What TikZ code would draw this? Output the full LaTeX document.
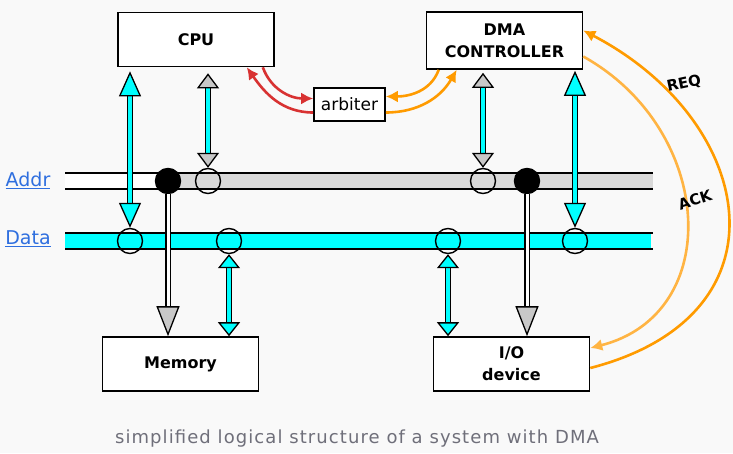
\documentclass[tikz,border=0pt]{standalone}
\usepackage{fontspec}
\setmainfont{DejaVu Sans}
\usetikzlibrary{arrows.meta}

\definecolor{bgcol}{HTML}{F9F9F9}
\definecolor{buscyan}{HTML}{00FFFF}
\definecolor{busgray}{HTML}{D9D9D9}
\definecolor{headgray}{HTML}{C8C8C8}
\definecolor{linkblue}{HTML}{2F6FDF}
\definecolor{arbred}{HTML}{D83232}
\definecolor{reqorange}{HTML}{FF9B00}
\definecolor{ackorange}{HTML}{FFB443}
\definecolor{capgray}{HTML}{6F6F7A}

\tikzset{
    box/.style = {
        draw, line width=1.6pt, fill=white,
        minimum width=156pt, minimum height=54pt,
        align=center, font=\bfseries\fontsize{16}{22}\selectfont
    },
    arbbox/.style = {
        draw, line width=1.6pt, fill=white,
        minimum width=71pt, minimum height=33pt,
        font=\fontsize{17}{19}\selectfont
    },
    busline/.style = {
        line width=1.4pt
    },
    tap/.style = {
        circle, draw, line width=1.4pt,
        minimum size=25pt, inner sep=0pt
    },
    tapdot/.style = {
        tap, fill=black
    },
    buslabel/.style = {
        linkblue, font=\fontsize{19}{21}\selectfont
    },
    dataarrow/.style = {
        >={Triangle[width=22pt, length=25pt, fill=buscyan, line width=1.3pt]}, <->,
        line width=1.4pt, double=buscyan, double distance=4pt
    },
    shortdata/.style = {
        >={Triangle[width=22pt, length=14pt, fill=buscyan, line width=1.3pt]}, <->,
        line width=1.4pt, double=buscyan, double distance=4pt
    },
    addrarrow/.style = {
        >={Triangle[width=22pt, length=15pt, fill=headgray, line width=1.3pt]}, <->,
        line width=1.4pt, double=buscyan, double distance=3.5pt
    },
    selarrow/.style = {
        >={Triangle[width=23pt, length=30pt, fill=headgray, line width=1.3pt]}, ->,
        line width=1.4pt, double=white, double distance=3pt
    },
    handshake/.style = {
        ->, >={Latex[length=12pt, width=12pt]}, line width=2.6pt
    },
    signal/.style = {
        font=\bfseries\fontsize{15}{17}\selectfont
    },
    caption/.style = {
        capgray, font=\fontsize{18}{20}\selectfont\addfontfeatures{LetterSpace=6}
    }
}

\begin{document}
\begin{tikzpicture}[x=1pt, y=-1pt]
    \path[use as bounding box, fill=bgcol] (0,0) rectangle (733,453);

    % Draw buses
    \fill[white] (65,173) rectangle (168,189);
    \fill[busgray] (168,173) rectangle (653,189);
    \fill[buscyan] (65,234) rectangle (651,250);
    \draw[busline] (65,173) -- (653,173) (65,189) -- (653,189);
    \draw[busline] (65,233) -- (653,233) (65,249) -- (653,249);
    \node[buslabel] (addr) at (28,180) {\underline{Addr}};
    \node[buslabel] (data) at (28,239) {\underline{Data}};

    % Draw bus taps
    \node[tapdot] (a1) at (168,181) {};
    \node[tap]    (a2) at (208,181) {};
    \node[tap]    (a3) at (483,181) {};
    \node[tapdot] (a4) at (527,181) {};
    \node[tap]    (d1) at (130,241) {};
    \node[tap]    (d2) at (229,241) {};
    \node[tap]    (d3) at (448,241) {};
    \node[tap]    (d4) at (575,241) {};

    % Draw boxes
    \node[box] (cpu) at (196,39.5) {CPU};
    \node[box, minimum height=57pt] (dma) at (504.5,40.5) {DMA\\CONTROLLER};
    \node[arbbox] (arb) at (349.5,104.5) {arbiter};
    \node[box] (mem) at (180.5,364) {Memory};
    \node[box] (io) at (511.5,364) {I/O\\device};

    % Draw bus arrows
    \draw[dataarrow, shorten <=4pt] (cpu.south -| d1) -- (d1);
    \draw[addrarrow, shorten <=6pt] (cpu.south -| a2) -- (a2);
    \draw[addrarrow, shorten <=3pt] (dma.south -| a3) -- (a3);
    \draw[dataarrow, shorten <=1pt] (dma.south -| d4) -- (d4);
    \draw[shortdata] (d2) -- (mem.north -| d2);
    \draw[shortdata] (d3) -- (io.north -| d3);
    \draw[selarrow] (a1) -- (mem.north -| a1);
    \draw[selarrow] (a4) -- (io.north -| a4);

    % Draw arbitration
    \draw[handshake, arbred] ([xshift=-12pt]cpu.south east) to[out=-70, in=180] ([yshift=6pt]arb.west);
    \draw[handshake, arbred] ([yshift=-8pt]arb.west) to[out=180, in=-55] ([xshift=-28pt]cpu.south east);
    \draw[handshake, reqorange] ([xshift=13pt]dma.south west) to[out=-110, in=0] ([yshift=8pt]arb.east);
    \draw[handshake, reqorange] ([yshift=-8pt]arb.east) to[out=0, in=-120] ([xshift=31pt]dma.south west);

    % Draw REQ / ACK
    \draw[handshake, reqorange] ([yshift=-4pt]io.east) .. controls (795,315) and (755,120) .. ([yshift=10pt]dma.east);
    \draw[handshake, ackorange] ([yshift=-16pt]dma.east) .. controls (715,130) and (725,314) .. ([yshift=16pt]io.east);
    \node[signal, rotate=12] (req) at (684,84) {REQ};
    \node[signal, rotate=18] (ack) at (695,200) {ACK};

    % Draw caption
    \node[caption] (cap) at (357,439) {simplified logical structure of a system with DMA};
\end{tikzpicture}
\end{document}
